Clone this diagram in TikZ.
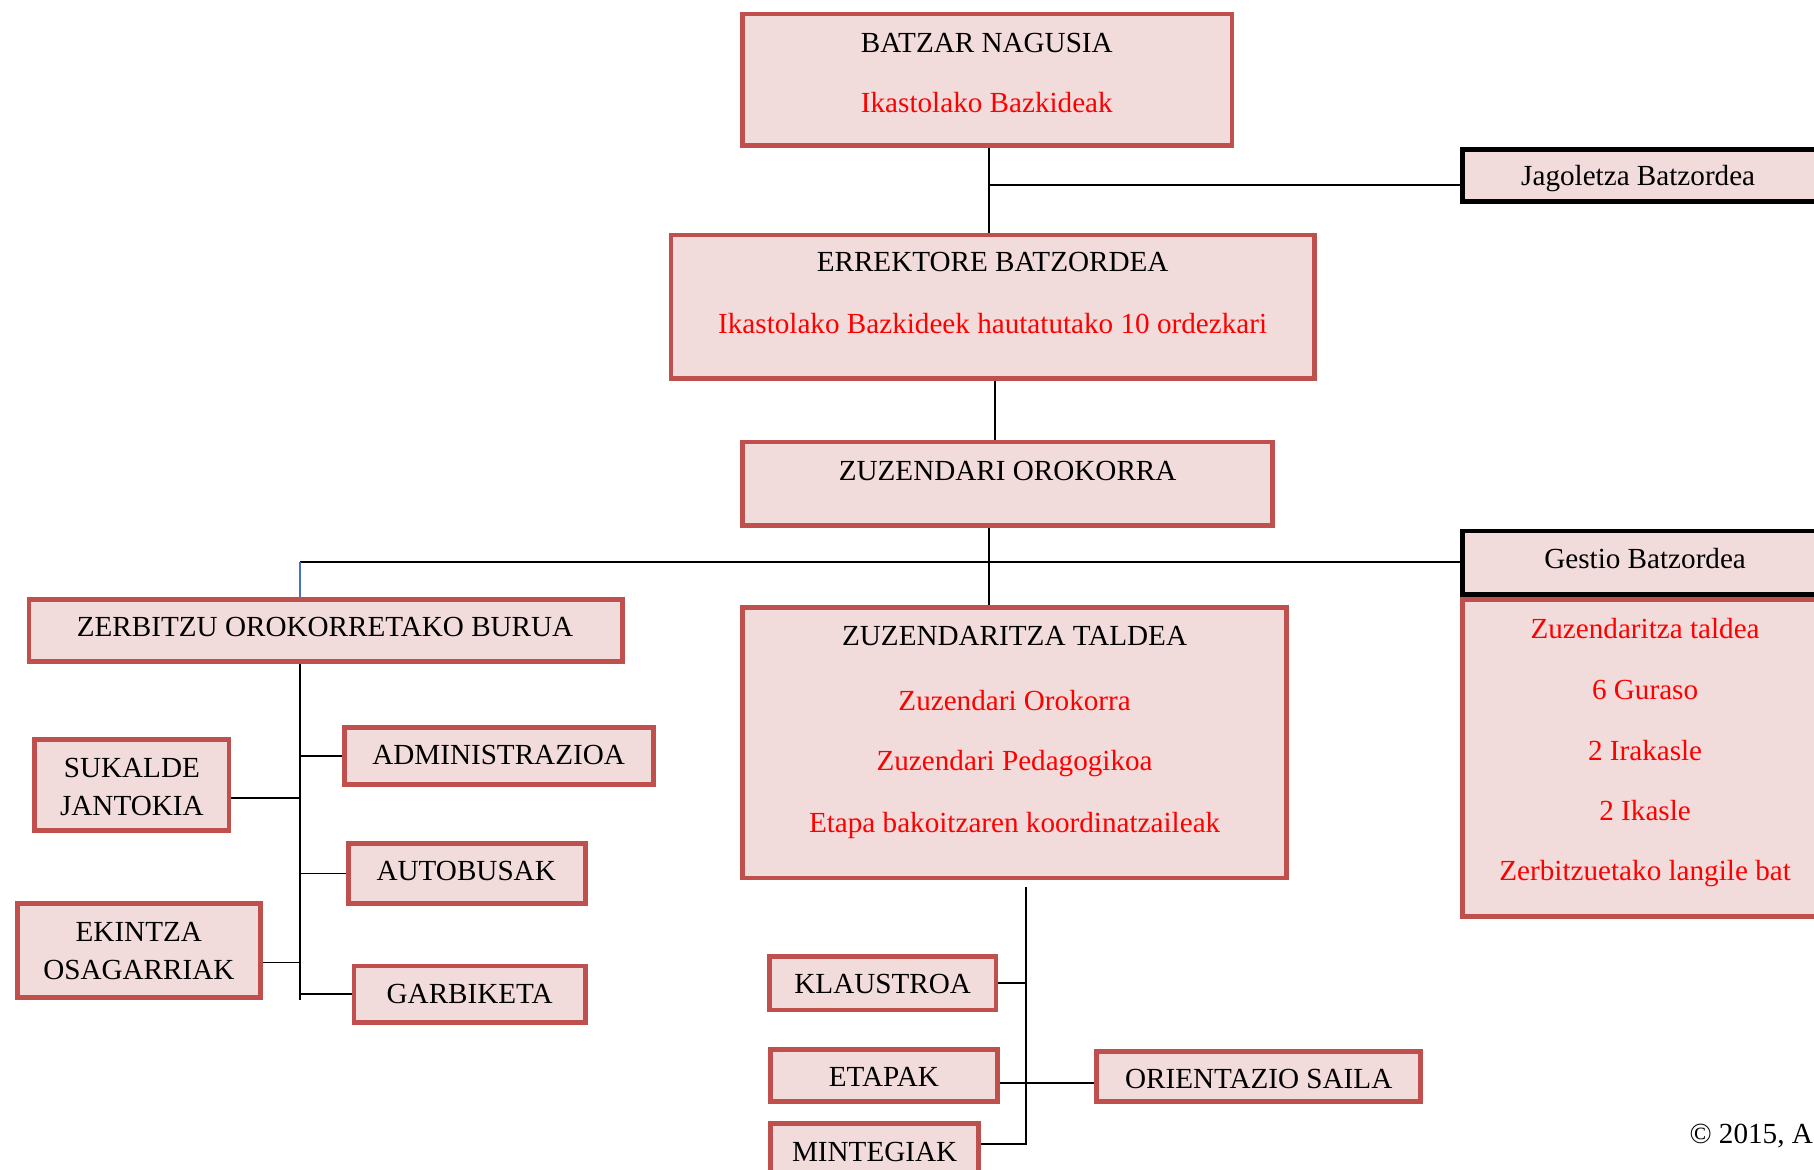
\documentclass[tikz,border=0pt]{standalone}
\usepackage{fontspec}
\setmainfont{Liberation Serif}
\definecolor{boxred}{HTML}{C0504D}
\definecolor{boxfill}{HTML}{F2DCDB}
\definecolor{linkblue}{HTML}{4472C4}
\tikzset{
  orgbox/.style={draw=boxred, line width=2pt, fill=boxfill, inner sep=0pt},
  blackbox/.style={orgbox, draw=black},
  txt/.style={anchor=base, inner sep=0pt, font=\fontsize{12.6}{15}\selectfont},
  redtxt/.style={txt, text=red},
  link/.style={line width=0.75pt}
}
\begin{document}
\begin{tikzpicture}[x=0.5pt,y=-0.5pt]
  \useasboundingbox (0,0) rectangle (1568,1011);
  % boxes
  \node[orgbox, minimum width=211.5pt, minimum height=57pt] (batzar) at (853.5,69) {};
  \node[blackbox, minimum width=153pt, minimum height=22.5pt] (jagoletza) at (1417,151.5) {};
  \node[orgbox, minimum width=278pt, minimum height=62pt] (errektore) at (858,265) {};
  \node[orgbox, minimum width=229pt, minimum height=36pt] (zuzOrok) at (871,418) {};
  \node[orgbox, minimum width=158pt, minimum height=137pt] (kideak) at (1422,655) {};
  \node[blackbox, minimum width=158pt, minimum height=27.5pt] (gestio) at (1422,486.5) {};
  \node[orgbox, minimum width=256.5pt, minimum height=27pt] (zerbitzu) at (281.5,545) {};
  \node[orgbox, minimum width=235pt, minimum height=117pt] (taldea) at (877,642) {};
  \node[orgbox, minimum width=84pt, minimum height=39.5pt] (sukalde) at (114,678.5) {};
  \node[orgbox, minimum width=105pt, minimum height=40.5pt] (ekintza) at (120,821.5) {};
  \node[orgbox, minimum width=133.5pt, minimum height=24.5pt] (admin) at (431.5,653.5) {};
  \node[orgbox, minimum width=102.5pt, minimum height=26pt] (autobus) at (403.5,755) {};
  \node[orgbox, minimum width=100pt, minimum height=24.5pt] (garbiketa) at (406,859.5) {};
  \node[orgbox, minimum width=98pt, minimum height=23pt] (klaustro) at (763,850) {};
  \node[orgbox, minimum width=98pt, minimum height=22.5pt] (etapak) at (764,929.5) {};
  \node[orgbox, minimum width=90pt, minimum height=22.5pt] (mintegi) at (756,993.5) {};
  \node[orgbox, minimum width=140pt, minimum height=21.5pt] (orientazio) at (1088,930.5) {};
  % texts
  \node[txt] (batzarT) at (853,45) {BATZAR NAGUSIA};
  \node[redtxt] (batzarR) at (853,97) {Ikastolako Bazkideak};
  \node[txt] (jagoletzaT) at (1416,160) {Jagoletza Batzordea};
  \node[txt] (errektoreT) at (858,235) {ERREKTORE BATZORDEA};
  \node[redtxt] (errektoreR) at (858,288) {Ikastolako Bazkideek hautatutako 10 ordezkari};
  \node[txt] (zuzOrokT) at (871,415) {ZUZENDARI OROKORRA};
  \node[txt] (gestioT) at (1422,491) {Gestio Batzordea};
  \node[redtxt] (kide1) at (1422,552) {Zuzendaritza taldea};
  \node[redtxt] (kide2) at (1422,605) {6 Guraso};
  \node[redtxt] (kide3) at (1422,657) {2 Irakasle};
  \node[redtxt] (kide4) at (1422,709) {2 Ikasle};
  \node[redtxt] (kide5) at (1422,761) {Zerbitzuetako langile bat};
  \node[txt] (zerbitzuT) at (281,550) {ZERBITZU OROKORRETAKO BURUA};
  \node[txt] (taldeaT) at (877,558) {ZUZENDARITZA TALDEA};
  \node[redtxt] (taldea1) at (877,614) {Zuzendari Orokorra};
  \node[redtxt] (taldea2) at (877,666) {Zuzendari Pedagogikoa};
  \node[redtxt] (taldea3) at (877,720) {Etapa bakoitzaren koordinatzaileak};
  \node[txt] (sukaldeT) at (114,672) {SUKALDE};
  \node[txt] (jantokiT) at (114,705) {JANTOKIA};
  \node[txt] (ekintzaT) at (120,814) {EKINTZA};
  \node[txt] (osagarriT) at (120,847) {OSAGARRIAK};
  \node[txt] (adminT) at (431,661) {ADMINISTRAZIOA};
  \node[txt] (autobusT) at (403,761) {AUTOBUSAK};
  \node[txt] (garbiketaT) at (406,867) {GARBIKETA};
  \node[txt] (klaustroT) at (763,859) {KLAUSTROA};
  \node[txt] (etapakT) at (764,939) {ETAPAK};
  \node[txt] (orientazioT) at (1088,941) {ORIENTAZIO SAILA};
  \node[txt] (mintegiT) at (756,1004) {MINTEGIAK};
  \node[txt, anchor=base west] (copy) at (1460,988) {© 2015, A};
  % connectors
  \coordinate (j1) at (855,160);
  \coordinate (o1) at (855,486);
  \coordinate (z1) at (259,486);
  \coordinate (zt) at (259,864);
  \coordinate (tt) at (887,767);
  \coordinate (tb) at (887,989);
  \draw[link] (batzar.south -| j1) -- (errektore.north -| j1);
  \draw[link] (j1) -- (j1 -| jagoletza.west);
  \draw[link] (errektore.south -| 860,0) -- (zuzOrok.north -| 860,0);
  \draw[link] (zuzOrok.south -| o1) -- (taldea.north -| o1);
  \draw[link] (z1) -- (o1) -- (o1 -| gestio.west);
  \draw[link, linkblue] (z1) -- (z1 |- zerbitzu.north);
  \draw[link] (zt |- zerbitzu.south) -- (zt);
  \draw[link] (zt |- admin.west) -- (admin.west);
  \draw[link] (sukalde.east |- 0,690) -- (zt |- 0,690);
  \draw[link] (zt |- autobus.west) -- (autobus.west);
  \draw[link] (ekintza.east |- 0,832) -- (zt |- 0,832);
  \draw[link] (zt |- garbiketa.west) -- (garbiketa.west);
  \draw[link] (tt) -- (tb) -- (tb -| mintegi.east);
  \draw[link] (klaustro.east) -- (tt |- klaustro.east);
  \draw[link] (etapak.east |- 0,936) -- (orientazio.west |- 0,936);
\end{tikzpicture}
\end{document}
